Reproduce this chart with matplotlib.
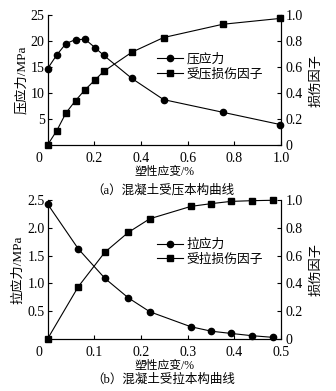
import matplotlib
matplotlib.use("Agg")
import matplotlib.pyplot as plt

plt.rcParams["font.family"] = ["Liberation Serif", "Noto Sans CJK SC"]
plt.rcParams["font.size"] = 10
plt.rcParams["axes.linewidth"] = 0.8

# (a) compression
comp_strain = [0.0, 0.04, 0.079, 0.12, 0.161, 0.203, 0.24, 0.361, 0.497, 0.75, 0.996]
comp_stress = [14.67, 17.35, 19.52, 20.28, 20.34, 18.75, 17.28, 12.82, 8.74, 6.31, 3.95]
comp_damage = [0.0, 0.112, 0.247, 0.342, 0.426, 0.5, 0.566, 0.714, 0.827, 0.929, 0.974]

# (b) tension
tens_strain = [0.0, 0.066, 0.123, 0.173, 0.219, 0.307, 0.351, 0.393, 0.437, 0.482]
tens_stress = [2.43, 1.62, 1.09, 0.74, 0.49, 0.22, 0.14, 0.10, 0.06, 0.03]
tens_damage = [0.0, 0.377, 0.625, 0.767, 0.865, 0.954, 0.974, 0.990, 0.995, 0.998]


def style(ax, ax2):
    ax.spines["top"].set_visible(False)
    ax2.spines["top"].set_visible(False)
    ax.tick_params(axis="x", direction="in", length=3, width=0.8, pad=5)
    ax.tick_params(axis="y", direction="in", length=3, width=0.8, pad=2)
    ax2.tick_params(direction="in", length=3, width=0.8, pad=3.5)
    ax2.set_ylim(0, 1.0)
    ax2.set_yticks([0, 0.2, 0.4, 0.6, 0.8, 1.0])
    ax2.set_yticklabels(["0", "0.2", "0.4", "0.6", "0.8", "1.0"])
    ax2.set_ylabel("损伤因子", labelpad=5, fontsize=9.5)
    ax.set_xlabel("塑性应变/%", labelpad=1, fontsize=8.5)
    # shared origin label
    ax.annotate("0", xy=(0, 0), xycoords="axes fraction", xytext=(-6, -5),
                textcoords="offset points", ha="center", va="top")


fig = plt.figure(figsize=(3.36, 3.91), dpi=100)

# --- top panel
ax = fig.add_axes([0.1414, 0.629, 0.695, 0.3325])
ax2 = ax.twinx()
l1, = ax.plot(comp_strain, comp_stress, "-o", color="black", lw=0.8, ms=4.5,
              clip_on=False, label="压应力")
l2, = ax2.plot(comp_strain, comp_damage, "-s", color="black", lw=0.8, ms=4.5,
               clip_on=False, label="受压损伤因子")
ax.set_xlim(0, 1.0)
ax.set_ylim(0, 25)
ax.set_xticks([0.2, 0.4, 0.6, 0.8, 1.0])
ax.set_xticklabels(["0.2", "0.4", "0.6", "0.8", "1.0"])
ax.set_yticks([5, 10, 15, 20, 25])
ax.set_ylabel("压应力/MPa", labelpad=2, fontsize=9.5)
style(ax, ax2)
ax2.legend(handles=[l1, l2], loc="upper left", bbox_to_anchor=(0.469, 0.71),
           frameon=False, borderpad=0, borderaxespad=0, handlelength=2.0,
           handletextpad=0.3, labelspacing=0.2, fontsize=9.2)
fig.text(0.485, 0.512, "（a）混凝土受压本构曲线", ha="center", va="center", fontsize=9)

# --- bottom panel
bx = fig.add_axes([0.1414, 0.133, 0.695, 0.3555])
bx2 = bx.twinx()
m1, = bx.plot(tens_strain, tens_stress, "-o", color="black", lw=0.8, ms=4.5,
              clip_on=False, label="拉应力")
m2, = bx2.plot(tens_strain, tens_damage, "-s", color="black", lw=0.8, ms=4.5,
               clip_on=False, label="受拉损伤因子")
bx.set_xlim(0, 0.5)
bx.set_ylim(0, 2.5)
bx.set_xticks([0.1, 0.2, 0.3, 0.4, 0.5])
bx.set_xticklabels(["0.1", "0.2", "0.3", "0.4", "0.5"])
bx.set_yticks([0.5, 1.0, 1.5, 2.0, 2.5])
bx.set_yticklabels(["0.5", "1.0", "1.5", "2.0", "2.5"])
bx.set_ylabel("拉应力/MPa", labelpad=2, fontsize=9.5)
style(bx, bx2)
bx2.legend(handles=[m1, m2], loc="upper left", bbox_to_anchor=(0.469, 0.72),
           frameon=False, borderpad=0, borderaxespad=0, handlelength=2.0,
           handletextpad=0.3, labelspacing=0.2, fontsize=9.2)
fig.text(0.485, 0.028, "（b）混凝土受拉本构曲线", ha="center", va="center", fontsize=9)

fig.savefig("out.png", dpi=100, facecolor="white")
